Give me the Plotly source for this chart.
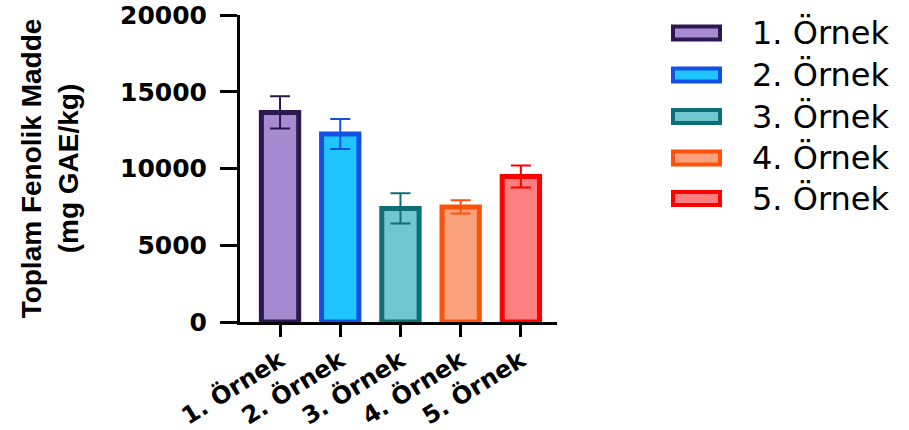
import plotly.graph_objects as go

categories = ["1. Örnek", "2. Örnek", "3. Örnek", "4. Örnek", "5. Örnek"]
means = [13650, 12250, 7400, 7500, 9480]
sds = [1050, 980, 990, 430, 720]
line_colors = ["#2B1850", "#1550E5", "#0E6E76", "#FF5109", "#FF0000"]
fill_colors = ["#A68AD2", "#1FC5FF", "#71C7CF", "#F9A27D", "#FD7F80"]
y_ticks = [0, 5000, 10000, 15000, 20000]
y_title = "Toplam Fenolik Madde<br>(mg GAE/kg)"

W, H = 909, 430
L, R, T, B = 240, 557, 15, 322  # plot area in px


def px_x(px):
    return (px - L) / (R - L)


def px_y(py):
    return (B - py) / (B - T)


fig = go.Figure()
for i, name in enumerate(categories):
    fig.add_trace(go.Bar(
        x=[name], y=[means[i]], name=name,
        marker=dict(color=fill_colors[i], line=dict(color=line_colors[i], width=5)),
        error_y=dict(type="data", array=[sds[i]], visible=True,
                     color=line_colors[i], thickness=2, width=10),
        width=0.62, showlegend=False, hoverinfo="skip",
    ))

# manual legend (large rectangular swatches as in the reference)
row_y = [33, 75, 116.5, 158, 198.5]
shapes = []
annotations = []
for i, name in enumerate(categories):
    cy = row_y[i]
    shapes.append(dict(type="rect", xref="paper", yref="paper",
                       x0=px_x(673), x1=px_x(720), y0=px_y(cy + 6.5), y1=px_y(cy - 6.5),
                       line=dict(color=line_colors[i], width=4), fillcolor=fill_colors[i]))
    annotations.append(dict(xref="paper", yref="paper", x=px_x(750), y=px_y(cy),
                            text=name, showarrow=False, xanchor="left", yanchor="middle",
                            font=dict(family="DejaVu Sans", size=32, color="black")))

fig.update_layout(
    width=W, height=H,
    margin=dict(l=L, r=W - R, t=T, b=H - B, pad=0),
    paper_bgcolor="white", plot_bgcolor="white",
    shapes=shapes, annotations=annotations,
    xaxis=dict(
        type="category", range=[-0.665, 4.6],
        showline=True, linecolor="black", linewidth=3,
        ticks="outside", ticklen=12, tickwidth=3, tickcolor="black",
        tickangle=-32, showgrid=False, zeroline=False,
        tickfont=dict(family="DejaVu Sans", size=24, color="black", weight="bold"),
        automargin=False, ticklabeloverflow="allow",
    ),
    yaxis=dict(
        range=[0, 20000], tickvals=y_ticks, ticktext=[str(v) for v in y_ticks],
        showline=True, linecolor="black", linewidth=3,
        ticks="outside", ticklen=17, tickwidth=3, tickcolor="black",
        showgrid=False, zeroline=False, ticklabelstandoff=8,
        ticklabeloverflow="allow",
        tickfont=dict(family="DejaVu Sans", size=25, color="black", weight="bold"),
        title=dict(text=y_title, standoff=34,
                   font=dict(family="Liberation Sans", size=28, color="black", weight="bold")),
        automargin=False,
    ),
)

fig.write_html("out.html", config={"displayModeBar": False},
               post_script="document.body.style.margin='0px';document.body.style.overflow='hidden';")
